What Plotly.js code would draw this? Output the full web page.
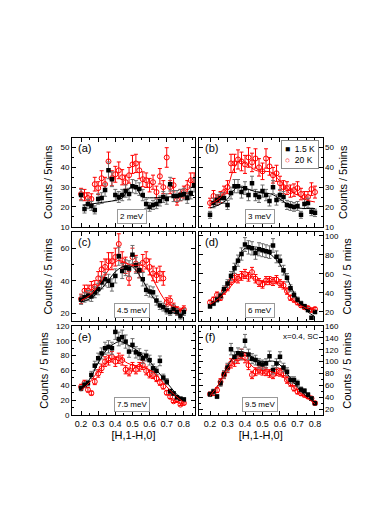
<!DOCTYPE html>
<html>
<head>
<meta charset="utf-8">
<script src="https://cdn.plot.ly/plotly-3.0.1.min.js"></script>
<style>html,body{margin:0;padding:0;background:#fff;}#chart{width:372px;height:526px;}</style>
</head>
<body>
<div id="chart"></div>
<script>
// ---- data ----
const hA = [0.20,0.22,0.24,0.26,0.28,0.30,0.32,0.34,0.36,0.38,0.40,0.42,0.44,0.46,0.48,0.50,0.52,0.54,0.56,0.58,0.60,0.62,0.64,0.66,0.68,0.70,0.72,0.74,0.76,0.78,0.80,0.82,0.84,0.86];
const hGrid = [0.20,0.22,0.24,0.26,0.28,0.30,0.32,0.34,0.36,0.38,0.40,0.42,0.44,0.46,0.48,0.50,0.52,0.54,0.56,0.58,0.60,0.62,0.64,0.66,0.68,0.70,0.72,0.74,0.76,0.78,0.80];

const aLow  = [26,19,21.5,20.5,18.5,24,24.5,28.5,38.5,34,26,25,26,28,26.5,30.5,30,29,26,21.5,20,21,21.5,23,25,24,31.5,25.5,25.5,26,26.5,24.5,27,31];
const aHigh = [26.5,26,24.5,24,31.5,29.5,34.5,31.5,43,34.5,36.5,38.5,35,32.5,36,41.5,42,38.5,34,33.5,31,32.5,27.5,35.5,30,45,30,31,23.5,26,27.5,30,33.5,33.5];
const bLow  = [16,22,23.5,24.5,24.5,21,27,30.5,30.5,27.5,29.5,26,32,26,25,28,26,23,30,23.5,26,25,21,20.5,20,20.5,16,21.5,22,17.5,17];
const bHigh = [22,25.5,23.5,25,27.5,30,42,42,44,43,41.5,45,42.5,44.5,40,38,44.5,40.5,36,37,32,30,29.5,28,28.5,29.5,26.5,25,25,29,27.5];
const cLow  = [28.5,30,31,30.5,33,35,39,41,40,37.5,43,55,46,48,47.5,56,49.5,46.5,41,34.5,33.5,33,28,25,24,22,21,23,21,18.5,21];
const cHigh = [29,34,34,36,36.5,41.5,47,48.5,52,52,54.5,62.5,52.5,49.5,41.5,54.5,50.5,46.5,51,52.5,48.5,44.5,43.5,44.5,41.5,27,28,24,22,20.5,22.5];
const dLow  = [26,29,33,37,44,50,58,66,74,81,91,88,87,82,86,85,84,83,90,78,74,64,56,45,38,33,29,26,22,14,20];
const dHigh = [30,33,38,35,42,46,53,56,55,58,60,57,62,55,51,49,53,53,52,54,50,48,42,35,33,30,27,25,24,22,23];
const eLow  = [36,40.5,43,54,66.5,76.5,83,90,92,90,112,102.5,105,99,85.5,94.5,84.5,82,76.5,80,74,63,59.5,73,50.5,45,32,29,24,22,21];
const eHigh = [38,43,34,29.5,45,56,63,72,74,78.5,72,76.5,74,61,58,65,61,65,67.5,59.5,55,54,49.5,44,38.5,30,24.5,18.5,20,14,16];
const fLow  = [45,49.5,41,63.5,78.5,90,121,108,114,112,135,112,105,102.5,97,95,97,109,86,97,108,90,83,69,69,63.5,53,50.5,44,38,30];
const fHigh = [45,47,52,66,77.5,88.5,97,100,105.5,112,106.5,94,77.5,83,86,84,83,80,77.5,83,82,80,69,63.5,55,49.5,46.5,44,41,38,30];

// fitted curves
const aFitLowX = [0.21,0.30,0.40,0.44,0.47,0.50,0.52,0.54,0.56,0.60,0.70,0.86];
const aFitLowY = [20.8,22,23.3,24.5,28,30.8,30.2,27,25,24.6,25,25.8];
const bFitLowX = [0.20,0.25,0.30,0.33,0.36,0.40,0.45,0.50,0.55,0.60,0.65,0.70,0.75,0.80];
const bFitLowY = [19.5,21,24,28,30,29.5,28,27,26.5,24,21,19.5,19.2,19.2];
const bFitHighX = [0.20,0.25,0.30,0.33,0.36,0.38,0.42,0.46,0.50,0.55,0.60,0.65,0.70,0.75,0.80];
const bFitHighY = [21.5,24,30,38,42.8,43,41,38.5,38,37.5,33,28.5,26,23.5,22.5];
const cFitLowX = [0.20,0.25,0.30,0.35,0.40,0.44,0.47,0.50,0.55,0.60,0.65,0.70,0.75,0.80];
const cFitLowY = [27,29,33,39,45.5,48.5,49.3,48.5,42,33,26,22,20,19.5];
const cFitHighX = [0.20,0.25,0.30,0.35,0.40,0.42,0.46,0.50,0.55,0.58,0.62,0.66,0.70,0.75,0.80];
const cFitHighY = [28,31,37,45,51.5,52.5,51,49.5,49.5,48,41,33,27,24,23];
const dFitLowX = [0.20,0.25,0.30,0.34,0.37,0.40,0.45,0.50,0.55,0.60,0.64,0.68,0.72,0.76,0.80];
const dFitLowY = [26,35,48,66,79,87,86.5,84,80,70,56,40,28,20,15];
const dFitHighX = [0.20,0.25,0.30,0.35,0.40,0.45,0.50,0.55,0.60,0.63,0.66,0.70,0.75,0.80];
const dFitHighY = [28,34,43,53,58,55,52,52,50,44,35,29,24,22];
const eFitLowX = [0.20,0.25,0.30,0.35,0.40,0.43,0.47,0.52,0.56,0.60,0.65,0.70,0.75,0.80];
const eFitLowY = [32,48,70,88,97,99,95,88,80,72,58,44,30,19];
const eFitHighX = [0.20,0.25,0.30,0.35,0.40,0.43,0.47,0.52,0.57,0.62,0.67,0.72,0.76,0.80];
const eFitHighY = [33,44,59,71,77,76.5,70,66,64,58,46,33,24,17];
const fFitLowX = [0.20,0.25,0.30,0.35,0.38,0.42,0.46,0.50,0.55,0.58,0.62,0.66,0.70,0.75,0.80];
const fFitLowY = [42,62,92,113,117,112,104,100,101,99,88,72,57,41,30];
const fFitHighX = [0.20,0.25,0.30,0.35,0.38,0.42,0.46,0.50,0.55,0.60,0.64,0.68,0.72,0.76,0.80];
const fFitHighY = [42,62,88,103,106,98,88,85,83,78,68,56,46,38,29];

const panelLabels = ['(a)','(b)','(c)','(d)','(e)','(f)'];
const energyLabels = ['2 meV','3 meV','4.5 meV','6 meV','7.5 meV','9.5 meV'];
const seriesNames = ['1.5 K','20 K'];
const yTitles = ['Counts / 5mins','Counts / 5mins','Counts / 5 mins','Counts / 5 mins','Counts / 5 mins','Counts / 5 mins'];
const xTitle = '[H,1-H,0]';
const noteText = 'x=0.4, SC';

// ---- build ----
const FONT = 'Liberation Sans, Arial, sans-serif';
const RED = '#ff0000';
const panels = [
  {x: hA, lo: aLow, hi: aHigh, err: 11, fits: [[aFitLowX, aFitLowY, '#000']]},
  {x: hGrid, lo: bLow, hi: bHigh, err: 11, fits: [[bFitLowX, bFitLowY, '#000'], [bFitHighX, bFitHighY, RED]]},
  {x: hGrid, lo: cLow, hi: cHigh, err: 10, fits: [[cFitLowX, cFitLowY, '#000'], [cFitHighX, cFitHighY, RED]]},
  {x: hGrid, lo: dLow, hi: dHigh, err: 8, fits: [[dFitLowX, dFitLowY, '#000'], [dFitHighX, dFitHighY, RED]]},
  {x: hGrid, lo: eLow, hi: eHigh, err: 9, fits: [[eFitLowX, eFitLowY, '#000'], [eFitHighX, eFitHighY, RED]]},
  {x: hGrid, lo: fLow, hi: fHigh, err: 8, fits: [[fFitLowX, fFitLowY, '#000'], [fFitHighX, fFitHighY, RED]]}
];

const traces = [];
panels.forEach((p, i) => {
  const n = i === 0 ? '' : String(i + 1);
  const xa = 'x' + n, ya = 'y' + n;
  traces.push({
    x: p.x, y: p.hi, xaxis: xa, yaxis: ya, type: 'scatter', mode: 'markers',
    name: seriesNames[1], showlegend: false,
    marker: {symbol: 'circle-open', size: 5, color: RED, line: {width: 1, color: RED}},
    error_y: {type: 'percent', value: p.err, color: RED, thickness: 1, width: 2}
  });
  traces.push({
    x: p.x, y: p.lo, xaxis: xa, yaxis: ya, type: 'scatter', mode: 'markers',
    name: seriesNames[0], showlegend: false,
    marker: {symbol: 'square', size: 4.5, color: '#000'},
    error_y: {type: 'percent', value: p.err, color: '#6e6e6e', thickness: 1, width: 2}
  });
  p.fits.forEach(f => {
    traces.push({
      x: f[0], y: f[1], xaxis: xa, yaxis: ya, type: 'scatter', mode: 'lines',
      showlegend: false, hoverinfo: 'skip',
      line: {color: f[2], width: 1, shape: 'spline', smoothing: 1}
    });
  });
});

const W = 372, H = 526;
const colX = [[72/W, 195/W], [199/W, 322.5/W]];
const rowY = [[1-226.7/H, 1-137.7/H], [1-321/H, 1-231.7/H], [1-415/H, 1-326/H]];
const xRanges = [[0.147, 0.865], [0.137, 0.843]];
const yRanges = [[10,55],[10,55],[15.5,70],[10.5,104.5],[0,120],[10,160]];
const yDticks = [10,10,20,20,20,20];

const layout = {
  width: W, height: H,
  margin: {l: 0, r: 0, t: 0, b: 0},
  paper_bgcolor: '#fff', plot_bgcolor: '#fff',
  font: {family: FONT, size: 9, color: '#000'},
  showlegend: false,
  annotations: [], shapes: []
};

for (let i = 0; i < 6; i++) {
  const col = i % 2, row = Math.floor(i / 2);
  const n = i === 0 ? '' : String(i + 1);
  const bottom = row === 2;
  layout['xaxis' + n] = {
    domain: colX[col], anchor: 'y' + n, range: xRanges[col],
    showgrid: false, zeroline: false, showline: true, linecolor: '#000', linewidth: 1, mirror: 'ticks',
    ticks: 'inside', ticklen: 4, tickcolor: '#000', dtick: 0.1, tick0: 0,
    minor: {dtick: 0.05, ticks: 'inside', ticklen: 2, tickcolor: '#000'},
    showticklabels: bottom, tickformat: '.1f', tickfont: {family: FONT, size: 9},
    title: bottom ? {text: xTitle, font: {family: FONT, size: 11}, standoff: 2} : {text: ''},
    automargin: false
  };
  layout['yaxis' + n] = {
    domain: rowY[row], anchor: 'x' + n, range: yRanges[i], side: col === 0 ? 'left' : 'right',
    showgrid: false, zeroline: false, showline: true, linecolor: '#000', linewidth: 1, mirror: 'ticks',
    ticks: 'inside', ticklen: 4, tickcolor: '#000', dtick: yDticks[i], tick0: 0,
    minor: {dtick: yDticks[i] / 2, ticks: 'inside', ticklen: 2, tickcolor: '#000'},
    tickfont: {family: FONT, size: 8},
    title: {text: yTitles[i], font: {family: FONT, size: 11}, standoff: 5},
    automargin: false
  };
  layout.annotations.push({
    xref: 'x' + n + ' domain', yref: 'y' + n + ' domain', x: 0.03, y: 0.97,
    xanchor: 'left', yanchor: 'top', text: panelLabels[i], showarrow: false,
    font: {family: FONT, size: 11}
  });
  layout.annotations.push({
    xref: 'x' + n + ' domain', yref: 'y' + n + ' domain', x: 0.49, y: 0.035,
    xanchor: 'center', yanchor: 'bottom', text: energyLabels[i], showarrow: false,
    font: {family: FONT, size: 8}, bordercolor: '#999', borderwidth: 1, borderpad: 2, bgcolor: '#fff'
  });
}
layout.annotations.push({
  xref: 'x6 domain', yref: 'y6 domain', x: 0.985, y: 0.955, xanchor: 'right', yanchor: 'top',
  text: noteText, showarrow: false, font: {family: FONT, size: 8}
});
// compact legend box in panel (b)
layout.annotations.push({
  xref: 'paper', yref: 'paper', x: 319/W, y: 1-140/H, xanchor: 'right', yanchor: 'top',
  align: 'left', showarrow: false,
  text: '<span style="color:#000">\u25A0</span>  ' + seriesNames[0] + '<br><span style="color:' + RED + '">\u25CB</span>  ' + seriesNames[1],
  font: {family: FONT, size: 8.5, color: '#000'},
  bordercolor: '#888', borderwidth: 1, borderpad: 3, bgcolor: '#fff'
});

Plotly.newPlot('chart', traces, layout, {staticPlot: true, displayModeBar: false});
</script>
</body>
</html>
